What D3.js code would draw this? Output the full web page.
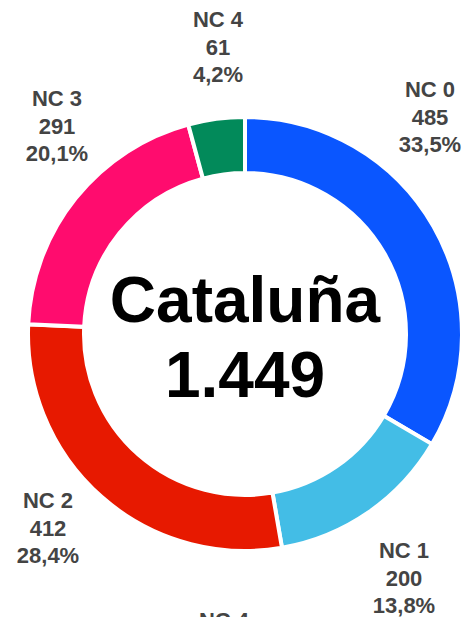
<!DOCTYPE html>
<html>
<head>
<meta charset="utf-8">
<script src="https://cdn.jsdelivr.net/npm/d3@7"></script>
<style>
html,body{margin:0;padding:0;background:#fff;}
svg{display:block;}
</style>
</head>
<body>
<script>
const categories = ["NC 0", "NC 1", "NC 2", "NC 3", "NC 4"];
const values = [485, 200, 412, 291, 61];
const percentLabels = ["33,5%", "13,8%", "28,4%", "20,1%", "4,2%"];
const colors = ["#0a56ff", "#43bde6", "#e71900", "#ff0c6e", "#028a5a"];
const centerTitle = "Cataluña";
const centerTotal = "1.449";

// label layout (center x, first baseline y)
const labelPos = [[430, 97], [404, 558], [48, 508], [57, 106], [218, 27]];
const extraLabel = {text: "NC 4", x: 224, y: 628};

const W = 469, H = 617;
const cx = 245, cy = 334;
const svg = d3.select("body").append("svg").attr("width", W).attr("height", H);

const pie = d3.pie().sort(null).value(d => d)(values);
const arc = d3.arc().innerRadius(161).outerRadius(217);

const g = svg.append("g").attr("transform", `translate(${cx},${cy})`);
g.selectAll("path").data(pie).join("path")
  .attr("d", arc)
  .attr("fill", (d, i) => colors[i])
  .attr("stroke", "#fff")
  .attr("stroke-width", 4);

const font = "'Liberation Sans', Arial, Helvetica, sans-serif";
const lineH = 27.5;
categories.forEach((c, i) => {
  const [x, y] = labelPos[i];
  const t = svg.append("text")
    .attr("x", x).attr("y", y)
    .attr("text-anchor", "middle")
    .attr("font-family", font)
    .attr("font-weight", "bold")
    .attr("font-size", 22)
    .attr("fill", "#444");
  [c, String(values[i]), percentLabels[i]].forEach((s, k) => {
    t.append("tspan").attr("x", x).attr("y", y + k * lineH).text(s);
  });
});

svg.append("text")
  .attr("x", extraLabel.x).attr("y", extraLabel.y)
  .attr("text-anchor", "middle")
  .attr("font-family", font).attr("font-weight", "bold")
  .attr("font-size", 22).attr("fill", "#444")
  .text(extraLabel.text);

svg.append("text")
  .attr("x", cx).attr("y", 322)
  .attr("text-anchor", "middle")
  .attr("font-family", font).attr("font-weight", "bold")
  .attr("font-size", 64).attr("fill", "#000")
  .text(centerTitle);
svg.append("text")
  .attr("x", cx).attr("y", 397)
  .attr("text-anchor", "middle")
  .attr("font-family", font).attr("font-weight", "bold")
  .attr("font-size", 64).attr("fill", "#000")
  .text(centerTotal);
</script>
</body>
</html>
